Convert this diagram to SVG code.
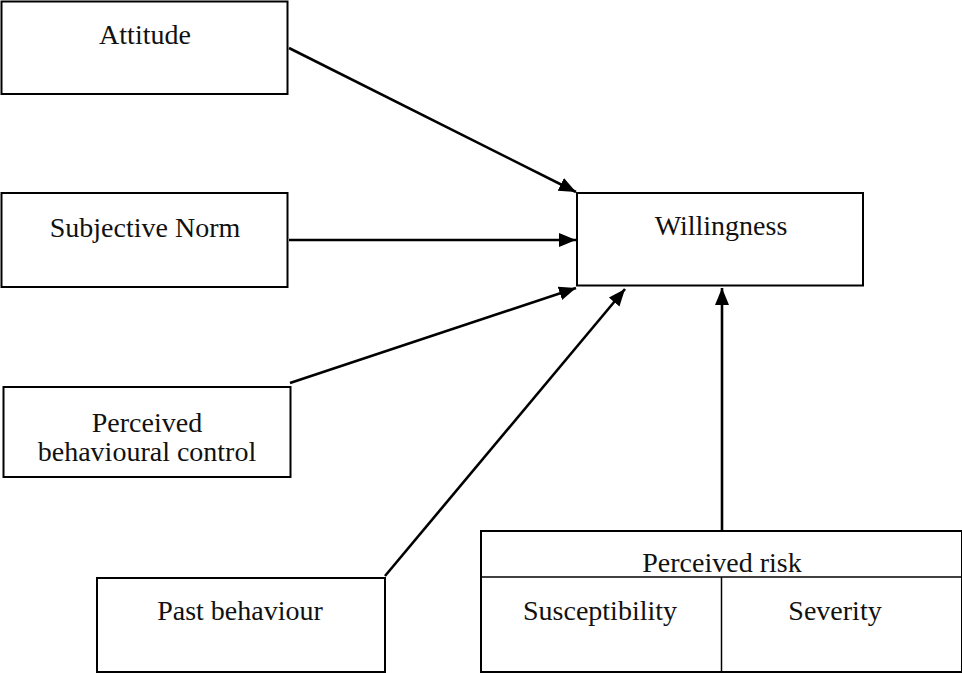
<svg xmlns="http://www.w3.org/2000/svg" width="962" height="673" viewBox="0 0 962 673">
<style>
.box{fill:#fff;stroke:#000;stroke-width:2}
.div{fill:none;stroke:#000;stroke-width:1.5}
.t{font-family:"Liberation Serif","Times New Roman",serif;font-size:28px;fill:#111;text-anchor:middle}
.c{fill:none;stroke:#000;stroke-width:2.6}
</style>
<defs>
<marker id="ah" markerUnits="userSpaceOnUse" markerWidth="20" markerHeight="16" refX="17" refY="7" orient="auto">
<path d="M0,0 L17,7 L0,14 z" fill="#000"/>
</marker>
</defs>
<rect width="962" height="673" fill="#fff"/>
<g id="attitude">
<rect class="box" x="1.5" y="1.5" width="286" height="92.5"/>
<text class="t" x="145" y="44">Attitude</text>
</g>
<g id="subjective-norm">
<rect class="box" x="1.5" y="193" width="286" height="94"/>
<text class="t" x="145" y="237">Subjective Norm</text>
</g>
<g id="pbc">
<rect class="box" x="3.5" y="387" width="287" height="90"/>
<text class="t" x="147" y="432">Perceived</text>
<text class="t" x="147" y="461">behavioural control</text>
</g>
<g id="past-behaviour">
<rect class="box" x="97" y="578" width="288" height="94"/>
<text class="t" x="240" y="620">Past behaviour</text>
</g>
<g id="willingness">
<rect class="box" x="577" y="193" width="286" height="92.5"/>
<text class="t" x="721" y="235">Willingness</text>
</g>
<g id="perceived-risk">
<rect class="box" x="481" y="531" width="481" height="141"/>
<line class="div" x1="481" y1="577" x2="962" y2="577"/>
<line class="div" x1="721.5" y1="577" x2="721.5" y2="672"/>
<text class="t" x="722" y="572">Perceived risk</text>
<text class="t" x="600" y="620">Susceptibility</text>
<text class="t" x="835" y="620">Severity</text>
</g>
<g id="connectors">
<line class="c" x1="289" y1="48" x2="576" y2="192" marker-end="url(#ah)"/>
<line class="c" x1="289" y1="240" x2="576" y2="240" marker-end="url(#ah)"/>
<line class="c" x1="290" y1="383" x2="576" y2="288" marker-end="url(#ah)"/>
<line class="c" x1="385" y1="576" x2="625" y2="289" marker-end="url(#ah)"/>
<line class="c" x1="722" y1="530" x2="722" y2="288" marker-end="url(#ah)"/>
</g>
</svg>
